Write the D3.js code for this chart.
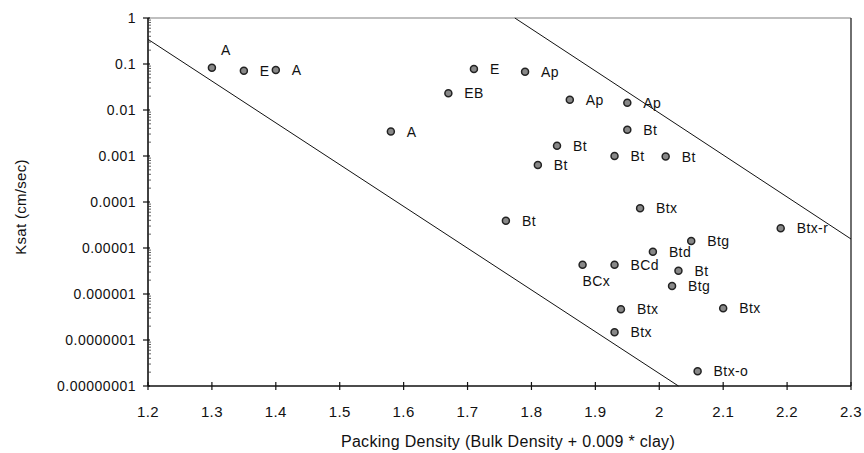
<!DOCTYPE html>
<html>
<head>
<meta charset="utf-8">
<script src="https://cdn.jsdelivr.net/npm/d3@7"></script>
<style>
  html, body { margin: 0; padding: 0; background: #fff; }
  svg { display: block; }
  text { font-family: "Liberation Sans", Arial, sans-serif; fill: #111; }
</style>
</head>
<body>
<svg id="chart" width="864" height="453"></svg>
<script>
// ---- data ----
const horizon = ["A","E","A","A","EB","E","Ap","Ap","Ap","Bt","Bt","Bt","Bt","Bt","Bt",
  "Btx","Btx-r","Btg","Btd","BCx","BCd","Bt","Btg","Btx","Btx","Btx","Btx-o"];
const packingDensity = [1.30,1.35,1.40,1.58,1.67,1.71,1.79,1.86,1.95,1.95,1.84,1.81,1.93,2.01,1.76,
  1.97,2.19,2.05,1.99,1.88,1.93,2.03,2.02,1.94,2.10,1.93,2.06];
const ksat = [0.083,0.0715,0.074,0.0034,0.023,0.078,0.068,0.0168,0.0144,0.0037,0.00167,0.00064,0.0010,0.00097,0.0000393,
  0.000073,0.0000268,0.0000142,0.0000083,0.0000043,0.0000043,0.0000032,0.0000015,0.000000465,0.00000049,0.000000147,0.000000021];

const lowerLineX = [1.2, 2.03];
const lowerLineK = [0.344, 1e-8];
const upperLineX = [1.774, 2.3];
const upperLineK = [1, 0.0000157];

const xTickValues = [1.2,1.3,1.4,1.5,1.6,1.7,1.8,1.9,2.0,2.1,2.2,2.3];
const xTickLabels = ["1.2","1.3","1.4","1.5","1.6","1.7","1.8","1.9","2","2.1","2.2","2.3"];
const yTickValues = [1,0.1,0.01,0.001,0.0001,0.00001,0.000001,0.0000001,0.00000001];
const yTickLabels = ["1","0.1","0.01","0.001","0.0001","0.00001","0.000001","0.0000001","0.00000001"];

const xTitle = "Packing Density (Bulk Density + 0.009 * clay)";
const yTitle = "Ksat (cm/sec)";

// ---- layout ----
const svg = d3.select("#chart");
const L = 148, R = 851, T = 18, B = 386;
const x = d3.scaleLinear().domain([1.2, 2.3]).range([L, R]);
const y = d3.scaleLog().domain([1e-8, 1]).range([B, T]);

// frame: top gray, right black
svg.append("line").attr("x1", L).attr("x2", R).attr("y1", T).attr("y2", T)
  .attr("stroke", "#808080").attr("stroke-width", 1.2);
svg.append("line").attr("x1", R).attr("x2", R).attr("y1", T).attr("y2", B)
  .attr("stroke", "#222").attr("stroke-width", 1.3);

// y axis
const yAxis = svg.append("g");
yAxis.append("line").attr("x1", L).attr("x2", L).attr("y1", T).attr("y2", B)
  .attr("stroke", "#111").attr("stroke-width", 1.6);
yTickValues.forEach((v, i) => {
  yAxis.append("line").attr("x1", L - 5).attr("x2", L + 2).attr("y1", y(v)).attr("y2", y(v))
    .attr("stroke", "#111").attr("stroke-width", 1.2);
  yAxis.append("text").attr("x", L - 12).attr("y", y(v)).attr("dy", "0.36em")
    .attr("text-anchor", "end").attr("font-size", 14).attr("letter-spacing", 0.5)
    .text(yTickLabels[i]);
});
// minor ticks
d3.range(-8, 0).forEach(e => {
  d3.range(2, 10).forEach(m => {
    const v = m * Math.pow(10, e);
    yAxis.append("line").attr("x1", L).attr("x2", L + 3).attr("y1", y(v)).attr("y2", y(v))
      .attr("stroke", "#333").attr("stroke-width", 0.8);
  });
});

// x axis
const xAxis = svg.append("g");
xAxis.append("line").attr("x1", L).attr("x2", R).attr("y1", B).attr("y2", B)
  .attr("stroke", "#111").attr("stroke-width", 1.5);
xTickValues.forEach((v, i) => {
  xAxis.append("line").attr("x1", x(v)).attr("x2", x(v)).attr("y1", B - 4).attr("y2", B + 4)
    .attr("stroke", "#111").attr("stroke-width", 1.2);
  xAxis.append("text").attr("x", x(v)).attr("y", B + 31)
    .attr("text-anchor", "middle").attr("font-size", 15).attr("letter-spacing", 0.4)
    .text(xTickLabels[i]);
});

// titles
svg.append("text").attr("x", 508).attr("y", 447).attr("text-anchor", "middle")
  .attr("font-size", 16).attr("letter-spacing", 0.3).text(xTitle);
svg.append("text").attr("transform", "translate(26,207) rotate(-90)").attr("text-anchor", "middle")
  .attr("font-size", 15).attr("letter-spacing", 0.3).text(yTitle);

// boundary lines
const line = d3.line().x(d => x(d[0])).y(d => y(d[1]));
svg.append("path").attr("d", line(d3.zip(lowerLineX, lowerLineK)))
  .attr("fill", "none").attr("stroke", "#111").attr("stroke-width", 1);
svg.append("path").attr("d", line(d3.zip(upperLineX, upperLineK)))
  .attr("fill", "none").attr("stroke", "#111").attr("stroke-width", 1);

// points
const pts = d3.range(horizon.length).map(i => ({ h: horizon[i], x: packingDensity[i], k: ksat[i], i }));
svg.append("g").selectAll("circle").data(pts).join("circle")
  .attr("cx", d => x(d.x)).attr("cy", d => y(d.k)).attr("r", 3.5)
  .attr("fill", "#888").attr("stroke", "#222").attr("stroke-width", 1.5);

// labels (special placements for two points)
const labelOffset = i => i === 0 ? [9, -18] : (i === 19 ? [0, 16] : [16, 0]);
svg.append("g").selectAll("text").data(pts).join("text")
  .attr("x", d => x(d.x) + labelOffset(d.i)[0])
  .attr("y", d => y(d.k) + labelOffset(d.i)[1])
  .attr("dy", "0.36em").attr("font-size", 14).attr("letter-spacing", 0.4).text(d => d.h);
</script>
</body>
</html>
